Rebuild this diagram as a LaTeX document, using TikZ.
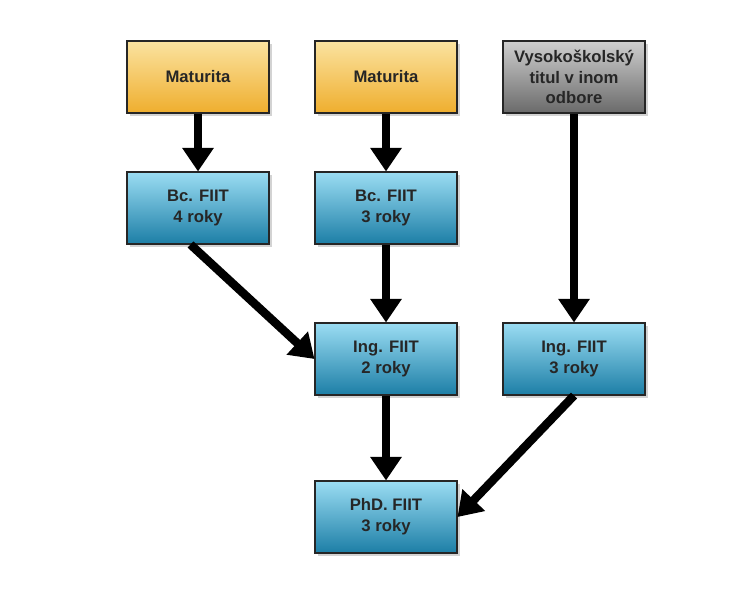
\documentclass[tikz,border=0pt]{standalone}
\usepackage{fontspec}
\setmainfont{Liberation Sans}
\usetikzlibrary{arrows.meta,shadows}

\definecolor{matTop}{HTML}{FBE3A0}
\definecolor{matMid}{HTML}{F6CD6A}
\definecolor{matBot}{HTML}{EFAE2E}
\definecolor{fiitTop}{HTML}{9BDDF3}
\definecolor{fiitMid}{HTML}{4DB8E2}
\definecolor{fiitBot}{HTML}{1C7EA6}
\definecolor{vysTop}{HTML}{CFCFCF}
\definecolor{vysMid}{HTML}{A2A2A2}
\definecolor{vysBot}{HTML}{6A6A6A}

\begin{document}
\begin{tikzpicture}[x=0.02cm,y=-0.02cm,
	box/.style={draw=black!85, line width=0.6pt, minimum width=2.84cm, minimum height=1.44cm,
		align=center, font=\fontsize{9.5}{11.8}\selectfont\bfseries, text=black!85,
		drop shadow={opacity=0.35, shadow xshift=1.5pt, shadow yshift=-1.5pt}},
	matbox/.style={box, top color=matTop, middle color=matMid, bottom color=matBot},
	fiitbox/.style={box, top color=fiitTop, middle color=fiitMid, bottom color=fiitBot},
	vysbox/.style={box, top color=vysTop, middle color=vysMid, bottom color=vysBot},
	flow/.style={line width=0.17cm, -{Triangle[width=0.6cm,length=0.47cm]}}]
	\useasboundingbox (0,0) rectangle (750,612);
	
	\node[matbox] (mat1) at (198,77) {Maturita};
	\node[matbox] (mat2) at (386,77) {Maturita};
	\node[vysbox] (vys) at (574,77) {Vysokoškolský\\titul v inom\\odbore};
	
	\node[fiitbox] (bc4) at (198,208) {Bc. FIIT\\4 roky};
	\node[fiitbox] (bc3) at (386,208) {Bc. FIIT\\3 roky};
	
	\node[fiitbox] (ing2) at (386,359) {Ing. FIIT\\2 roky};
	\node[fiitbox] (ing3) at (574,359) {Ing. FIIT\\3 roky};
	
	\node[fiitbox] (phd) at (386,517) {PhD. FIIT\\3 roky};
	
	\draw[flow] (mat1) -- (bc4);
	\draw[flow] (mat2) -- (bc3);
	\draw[flow] (vys) -- (ing3);
	\draw[flow] ([xshift=-0.15cm]bc4.south) -- (ing2.west);
	\draw[flow] (bc3) -- (ing2);
	\draw[flow] (ing2) -- (phd);
	\draw[flow] (ing3.south) -- (phd.east);
\end{tikzpicture}
\end{document}
